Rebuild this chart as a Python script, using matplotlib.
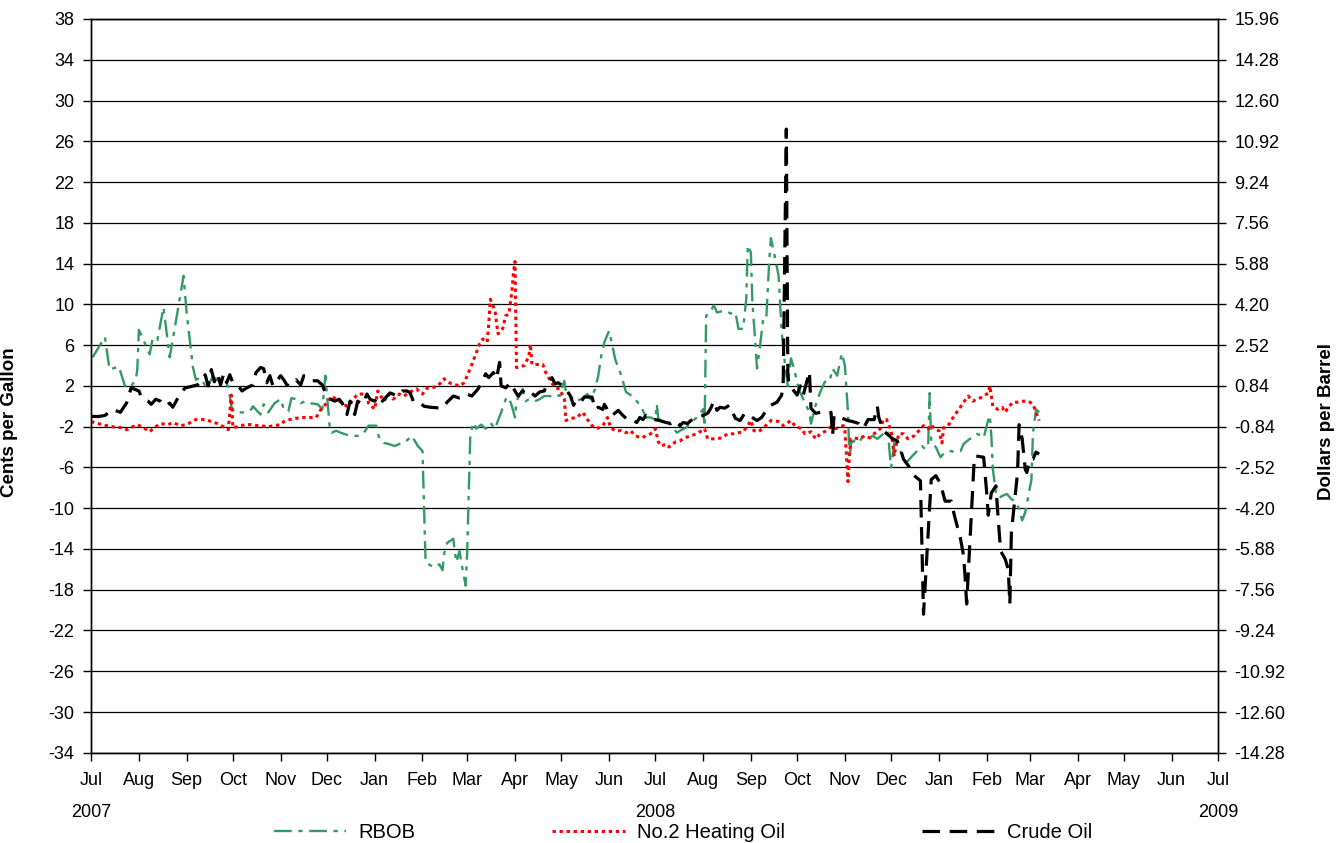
import matplotlib
matplotlib.use('Agg')
import matplotlib.pyplot as plt
import matplotlib.dates as mdates
from matplotlib.ticker import FixedLocator
import pandas as pd
import numpy as np

plt.rcParams['font.family'] = ['Liberation Sans', 'DejaVu Sans']
plt.rcParams['font.size'] = 13
plt.rcParams['axes.unicode_minus'] = False

# RBOB spread, cents per gallon
rbob_dates = ['2007-07-02', '2007-07-06', '2007-07-10', '2007-07-13', '2007-07-19', '2007-07-23', '2007-07-26',
              '2007-07-30', '2007-07-31', '2007-08-01', '2007-08-04', '2007-08-08', '2007-08-10', '2007-08-13',
              '2007-08-17', '2007-08-21', '2007-08-25', '2007-08-30', '2007-09-01', '2007-09-05', '2007-09-07',
              '2007-09-10', '2007-09-14', '2007-09-18', '2007-09-24', '2007-09-28', '2007-09-30', '2007-10-02',
              '2007-10-09', '2007-10-13', '2007-10-14', '2007-10-17', '2007-10-19', '2007-10-21', '2007-10-24',
              '2007-10-28', '2007-11-01', '2007-11-03', '2007-11-06', '2007-11-08', '2007-11-11', '2007-11-14',
              '2007-11-17', '2007-11-20', '2007-11-25', '2007-11-28', '2007-11-30', '2007-12-03', '2007-12-04',
              '2007-12-07', '2007-12-10', '2007-12-14', '2007-12-18', '2007-12-22', '2007-12-25', '2007-12-28',
              '2008-01-02', '2008-01-04', '2008-01-07', '2008-01-10', '2008-01-14', '2008-01-17', '2008-01-20',
              '2008-01-23', '2008-01-25', '2008-01-29', '2008-02-01', '2008-02-03', '2008-02-06', '2008-02-09',
              '2008-02-12', '2008-02-14', '2008-02-15', '2008-02-17', '2008-02-21', '2008-02-22', '2008-02-23',
              '2008-02-25', '2008-02-27', '2008-02-29', '2008-03-01', '2008-03-03', '2008-03-05', '2008-03-07',
              '2008-03-10', '2008-03-13', '2008-03-16', '2008-03-19', '2008-03-23', '2008-03-26', '2008-03-28',
              '2008-03-30', '2008-04-01', '2008-04-02', '2008-04-06', '2008-04-08', '2008-04-10', '2008-04-14',
              '2008-04-17', '2008-04-20', '2008-04-24', '2008-04-27', '2008-04-30', '2008-05-03', '2008-05-04',
              '2008-05-07', '2008-05-10', '2008-05-14', '2008-05-18', '2008-05-20', '2008-05-23', '2008-05-25',
              '2008-05-27', '2008-05-29', '2008-06-01', '2008-06-03', '2008-06-05', '2008-06-09', '2008-06-12',
              '2008-06-16', '2008-06-19', '2008-06-22', '2008-06-25', '2008-06-28', '2008-07-01', '2008-07-02',
              '2008-07-03', '2008-07-07', '2008-07-12', '2008-07-15', '2008-07-17', '2008-07-21', '2008-07-24',
              '2008-07-28', '2008-08-01', '2008-08-02', '2008-08-03', '2008-08-05', '2008-08-08', '2008-08-10',
              '2008-08-15', '2008-08-19', '2008-08-22', '2008-08-24', '2008-08-27', '2008-08-29', '2008-08-30',
              '2008-09-01', '2008-09-02', '2008-09-04', '2008-09-05', '2008-09-07', '2008-09-09', '2008-09-11',
              '2008-09-13', '2008-09-14', '2008-09-16', '2008-09-19', '2008-09-21', '2008-09-23', '2008-09-25',
              '2008-09-27', '2008-09-29', '2008-10-02', '2008-10-05', '2008-10-09', '2008-10-10', '2008-10-13',
              '2008-10-16', '2008-10-19', '2008-10-22', '2008-10-24', '2008-10-27', '2008-10-30', '2008-11-01',
              '2008-11-03', '2008-11-04', '2008-11-05', '2008-11-07', '2008-11-10', '2008-11-12', '2008-11-16',
              '2008-11-19', '2008-11-22', '2008-11-26', '2008-11-29', '2008-11-30', '2008-12-01', '2008-12-03',
              '2008-12-06', '2008-12-09', '2008-12-11', '2008-12-14', '2008-12-19', '2008-12-21', '2008-12-23',
              '2008-12-25', '2008-12-26', '2008-12-27', '2008-12-30', '2009-01-02', '2009-01-05', '2009-01-09',
              '2009-01-11', '2009-01-15', '2009-01-17', '2009-01-21', '2009-01-23', '2009-01-26', '2009-01-30',
              '2009-02-02', '2009-02-03', '2009-02-04', '2009-02-05', '2009-02-07', '2009-02-09', '2009-02-11',
              '2009-02-14', '2009-02-17', '2009-02-20', '2009-02-22', '2009-02-24', '2009-02-26', '2009-02-28',
              '2009-03-02', '2009-03-03', '2009-03-05', '2009-03-07']
rbob_vals = [4.8, 5.8, 6.8, 3.6, 3.9, 2.0, 1.8,
             2.6, 3.6, 7.5, 6.5, 5.1, 6.7, 6.5,
             9.7, 4.8, 8.3, 12.8, 9.2, 3.9, 2.6,
             2.8, 1.8, 2.9, 2.3, 2.0, 0.0, -0.6,
             -0.6, -0.3, 0.0, -0.5, -0.8, 0.2, -0.6,
             0.3, 0.7, -0.3, -0.5, 0.8, 0.7, 0.3,
             0.5, 0.3, 0.2, -0.3, 3.0, -2.4, -2.6,
             -2.4, -2.6, -2.8, -2.9, -2.9, -2.6, -1.9,
             -1.9, -3.2, -3.6, -3.7, -3.9, -3.7, -3.6,
             -3.2, -2.9, -3.9, -4.4, -15.3, -15.6, -15.8,
             -15.5, -16.1, -14.5, -13.4, -13.0, -14.3, -15.3,
             -14.2, -16.0, -17.6, -14.2, -2.9, -1.6, -2.2,
             -1.8, -2.2, -1.6, -2.2, -0.6, 0.7, 0.9,
             0.0, -1.1, 0.5, 1.7, 0.5, 0.7, 0.5,
             0.7, 1.0, 1.0, 1.2, 1.0, 2.5, 1.4,
             1.0, 0.5, 0.7, 1.2, 0.7, 1.7, 3.0,
             5.0, 6.3, 7.4, 6.1, 4.6, 3.0, 1.4,
             1.0, 0.5, -0.1, -1.1, -1.1, -1.3, 0.2,
             -1.3, -1.4, -1.9, -2.6, -2.4, -2.1, -1.6,
             -1.1, -0.3, -2.0, 8.9, 9.1, 9.9, 9.2,
             9.4, 9.1, 9.2, 7.6, 7.6, 10.5, 15.8,
             15.1, 10.2, 6.0, 3.7, 6.0, 8.6, 8.6,
             14.5, 16.5, 15.1, 12.8, 7.3, 4.3, 2.0,
             4.7, 3.7, 1.7, 0.7, -0.6, -1.7, 0.1,
             1.4, 2.4, 2.4, 3.7, 3.0, 5.2, 4.0,
             -0.6, -5.2, -3.6, -3.4, -3.6, -3.1, -3.2,
             -2.9, -3.2, -2.7, -2.4, -4.5, -6.0, -3.6,
             -4.2, -4.9, -5.5, -5.0, -4.2, -3.9, -4.2,
             -3.9, 1.3, -3.6, -4.0, -5.0, -4.5, -4.4,
             -4.5, -4.4, -3.7, -3.2, -3.1, -2.7, -3.1,
             -1.3, -0.9, -2.9, -6.2, -8.5, -9.0, -8.8,
             -8.6, -9.1, -9.4, -10.1, -11.2, -10.4, -8.8,
             -7.2, -2.6, -0.3, -0.6]

# No.2 heating oil spread, cents per gallon
ho_dates = ['2007-07-01', '2007-07-08', '2007-07-14', '2007-07-21', '2007-07-24', '2007-07-31', '2007-08-04',
            '2007-08-08', '2007-08-11', '2007-08-15', '2007-08-20', '2007-08-23', '2007-08-28', '2007-09-01',
            '2007-09-07', '2007-09-13', '2007-09-17', '2007-09-21', '2007-09-26', '2007-09-28', '2007-09-30',
            '2007-10-01', '2007-10-04', '2007-10-09', '2007-10-13', '2007-10-17', '2007-10-24', '2007-11-01',
            '2007-11-03', '2007-11-07', '2007-11-14', '2007-11-19', '2007-11-24', '2007-11-28', '2007-12-01',
            '2007-12-04', '2007-12-09', '2007-12-14', '2007-12-16', '2007-12-21', '2007-12-27', '2007-12-28',
            '2008-01-01', '2008-01-03', '2008-01-05', '2008-01-07', '2008-01-10', '2008-01-13', '2008-01-17',
            '2008-01-20', '2008-01-24', '2008-01-28', '2008-02-01', '2008-02-04', '2008-02-07', '2008-02-11',
            '2008-02-15', '2008-02-17', '2008-02-20', '2008-02-25', '2008-02-28', '2008-03-01', '2008-03-04',
            '2008-03-07', '2008-03-09', '2008-03-11', '2008-03-14', '2008-03-15', '2008-03-16', '2008-03-19',
            '2008-03-21', '2008-03-24', '2008-03-26', '2008-03-28', '2008-03-30', '2008-03-31', '2008-04-01',
            '2008-04-02', '2008-04-07', '2008-04-10', '2008-04-11', '2008-04-12', '2008-04-16', '2008-04-19',
            '2008-04-21', '2008-04-24', '2008-04-27', '2008-04-30', '2008-05-03', '2008-05-04', '2008-05-07',
            '2008-05-11', '2008-05-15', '2008-05-18', '2008-05-21', '2008-05-24', '2008-05-28', '2008-05-31',
            '2008-06-02', '2008-06-05', '2008-06-09', '2008-06-12', '2008-06-15', '2008-06-18', '2008-06-22',
            '2008-06-25', '2008-06-28', '2008-07-01', '2008-07-03', '2008-07-05', '2008-07-08', '2008-07-10',
            '2008-07-14', '2008-07-17', '2008-07-20', '2008-07-24', '2008-07-28', '2008-07-31', '2008-08-02',
            '2008-08-04', '2008-08-09', '2008-08-13', '2008-08-17', '2008-08-21', '2008-08-27', '2008-08-30',
            '2008-09-01', '2008-09-03', '2008-09-06', '2008-09-10', '2008-09-14', '2008-09-19', '2008-09-22',
            '2008-09-27', '2008-09-30', '2008-10-04', '2008-10-06', '2008-10-10', '2008-10-13', '2008-10-16',
            '2008-10-20', '2008-10-23', '2008-10-26', '2008-10-29', '2008-10-31', '2008-11-01', '2008-11-02',
            '2008-11-03', '2008-11-04', '2008-11-05', '2008-11-07', '2008-11-10', '2008-11-14', '2008-11-17',
            '2008-11-20', '2008-11-24', '2008-11-26', '2008-11-28', '2008-12-01', '2008-12-03', '2008-12-04',
            '2008-12-06', '2008-12-09', '2008-12-12', '2008-12-16', '2008-12-19', '2008-12-22', '2008-12-25',
            '2008-12-27', '2008-12-29', '2009-01-01', '2009-01-03', '2009-01-04', '2009-01-07', '2009-01-11',
            '2009-01-14', '2009-01-17', '2009-01-20', '2009-01-23', '2009-01-26', '2009-01-29', '2009-02-02',
            '2009-02-03', '2009-02-05', '2009-02-08', '2009-02-11', '2009-02-13', '2009-02-15', '2009-02-18',
            '2009-02-21', '2009-02-25', '2009-02-28', '2009-03-03', '2009-03-05', '2009-03-07']
ho_vals = [-1.5, -1.8, -2.0, -2.1, -2.3, -1.8, -2.1,
           -2.5, -2.1, -1.7, -1.8, -1.6, -1.9, -1.8,
           -1.3, -1.3, -1.5, -1.7, -2.1, -2.3, 1.1,
           -2.1, -2.0, -1.8, -1.8, -1.9, -2.0, -1.8,
           -1.5, -1.3, -1.1, -1.1, -1.1, -0.1, 0.3,
           1.0, 0.5, 0.0, 0.3, 1.2, 1.2, 0.3,
           -0.3, 1.5, 1.0, 0.5, 1.2, 0.7, 1.2,
           1.0, 1.4, 1.7, 1.2, 1.8, 1.8, 2.0,
           2.7, 2.4, 2.2, 2.0, 2.3, 3.0, 4.1,
           5.3, 6.1, 6.6, 6.3, 8.1, 10.5, 9.4,
           7.1, 7.6, 8.9, 9.0, 11.3, 13.1, 14.2,
           3.8, 4.0, 4.9, 6.1, 4.1, 4.1, 4.1,
           3.3, 2.5, 1.8, 1.7, 0.7, -1.4, -1.2,
           -1.1, -0.6, -1.3, -1.9, -2.2, -1.9, -1.1,
           -2.1, -2.4, -2.4, -2.6, -2.4, -2.9, -3.1,
           -2.9, -2.7, -2.2, -3.5, -3.9, -3.7, -4.0,
           -3.5, -3.4, -3.1, -2.9, -2.7, -2.4, -2.2,
           -3.2, -3.2, -3.1, -2.7, -2.7, -2.5, -1.9,
           -1.4, -2.4, -2.5, -2.0, -1.4, -1.5, -1.9,
           -1.4, -2.0, -2.2, -2.7, -2.5, -3.2, -2.7,
           -2.4, -2.0, -2.2, -2.0, -1.9, -2.4, -4.8,
           -7.4, -4.5, -3.2, -3.1, -3.2, -2.9, -3.1,
           -2.7, -2.2, -1.3, -1.3, -2.4, -4.9, -3.9,
           -2.7, -2.7, -3.2, -2.9, -2.4, -1.9, -2.2,
           -1.8, -2.2, -2.4, -3.6, -2.1, -1.9, -0.9,
           -0.3, 0.4, 1.0, 0.5, 0.7, 0.9, 1.3,
           2.0, 0.0, -0.3, -0.1, -0.6, -0.1, 0.4,
           0.4, 0.5, 0.5, 0.2, -0.6, -1.4]

# crude oil spread, dollars per barrel
crude_dates = ['2007-07-01', '2007-07-06', '2007-07-10', '2007-07-15', '2007-07-20', '2007-07-24', '2007-07-26',
               '2007-07-27', '2007-08-01', '2007-08-03', '2007-08-07', '2007-08-09', '2007-08-12', '2007-08-15',
               '2007-08-18', '2007-08-21', '2007-08-23', '2007-08-27', '2007-08-31', '2007-09-03', '2007-09-08',
               '2007-09-11', '2007-09-13', '2007-09-15', '2007-09-17', '2007-09-19', '2007-09-21', '2007-09-23',
               '2007-09-25', '2007-09-27', '2007-09-29', '2007-10-01', '2007-10-04', '2007-10-07', '2007-10-10',
               '2007-10-14', '2007-10-16', '2007-10-19', '2007-10-21', '2007-10-23', '2007-10-25', '2007-10-27',
               '2007-11-01', '2007-11-03', '2007-11-05', '2007-11-07', '2007-11-11', '2007-11-14', '2007-11-16',
               '2007-11-19', '2007-11-21', '2007-11-25', '2007-11-28', '2007-11-30', '2007-12-02', '2007-12-06',
               '2007-12-09', '2007-12-11', '2007-12-14', '2007-12-16', '2007-12-19', '2007-12-21', '2007-12-24',
               '2007-12-27', '2007-12-29', '2008-01-01', '2008-01-04', '2008-01-06', '2008-01-09', '2008-01-11',
               '2008-01-16', '2008-01-19', '2008-01-22', '2008-01-24', '2008-01-26', '2008-01-29', '2008-02-02',
               '2008-02-06', '2008-02-14', '2008-02-17', '2008-02-21', '2008-02-25', '2008-02-28', '2008-03-01',
               '2008-03-04', '2008-03-08', '2008-03-10', '2008-03-13', '2008-03-15', '2008-03-18', '2008-03-20',
               '2008-03-22', '2008-03-23', '2008-03-26', '2008-03-29', '2008-04-01', '2008-04-03', '2008-04-06',
               '2008-04-09', '2008-04-11', '2008-04-14', '2008-04-17', '2008-04-20', '2008-04-22', '2008-04-25',
               '2008-04-27', '2008-04-29', '2008-05-02', '2008-05-04', '2008-05-07', '2008-05-09', '2008-05-11',
               '2008-05-14', '2008-05-16', '2008-05-21', '2008-05-23', '2008-05-25', '2008-05-28', '2008-05-29',
               '2008-06-01', '2008-06-03', '2008-06-07', '2008-06-10', '2008-06-13', '2008-06-16', '2008-06-19',
               '2008-06-21', '2008-06-23', '2008-06-25', '2008-06-28', '2008-07-01', '2008-07-04', '2008-07-08',
               '2008-07-11', '2008-07-14', '2008-07-17', '2008-07-19', '2008-07-22', '2008-07-24', '2008-07-28',
               '2008-08-01', '2008-08-04', '2008-08-06', '2008-08-08', '2008-08-10', '2008-08-12', '2008-08-15',
               '2008-08-18', '2008-08-22', '2008-08-25', '2008-08-28', '2008-08-31', '2008-09-05', '2008-09-08',
               '2008-09-11', '2008-09-14', '2008-09-18', '2008-09-21', '2008-09-22', '2008-09-24', '2008-09-25',
               '2008-09-26', '2008-09-28', '2008-10-01', '2008-10-03', '2008-10-05', '2008-10-09', '2008-10-10',
               '2008-10-13', '2008-10-16', '2008-10-19', '2008-10-23', '2008-10-24', '2008-10-25', '2008-10-29',
               '2008-11-03', '2008-11-06', '2008-11-10', '2008-11-13', '2008-11-16', '2008-11-20', '2008-11-22',
               '2008-11-23', '2008-11-26', '2008-12-02', '2008-12-05', '2008-12-07', '2008-12-09', '2008-12-13',
               '2008-12-16', '2008-12-20', '2008-12-22', '2008-12-27', '2008-12-30', '2009-01-02', '2009-01-05',
               '2009-01-09', '2009-01-11', '2009-01-15', '2009-01-17', '2009-01-18', '2009-01-19', '2009-01-21',
               '2009-01-23', '2009-01-24', '2009-01-26', '2009-01-30', '2009-02-01', '2009-02-02', '2009-02-04',
               '2009-02-07', '2009-02-08', '2009-02-10', '2009-02-13', '2009-02-15', '2009-02-16', '2009-02-17',
               '2009-02-19', '2009-02-21', '2009-02-22', '2009-02-24', '2009-02-26', '2009-02-27', '2009-03-01',
               '2009-03-03', '2009-03-05', '2009-03-07']
crude_vals = [-0.42, -0.42, -0.38, -0.13, -0.25, 0.13, 0.55,
              0.76, 0.63, 0.34, 0.21, 0.08, 0.29, 0.21,
              0.00, 0.13, -0.04, 0.42, 0.76, 0.80, 0.88,
              1.09, 1.30, 0.84, 1.51, 1.01, 1.34, 0.88,
              1.34, 0.97, 1.30, 0.97, 0.88, 0.63, 0.76,
              0.88, 1.39, 1.60, 1.55, 0.97, 1.26, 0.84,
              1.26, 1.09, 0.88, 0.84, 1.09, 0.88, 1.26,
              1.13, 1.05, 1.05, 0.88, 0.55, 0.34, 0.21,
              0.29, 0.13, -0.34, 0.21, -0.34, 0.21, 0.08,
              0.50, 0.29, 0.21, 0.42, 0.21, 0.42, 0.55,
              0.42, 0.63, 0.63, 0.55, 0.21, 0.21, 0.00,
              -0.04, -0.08, 0.17, 0.42, 0.34, 0.38, 0.50,
              0.42, 0.71, 0.92, 1.34, 1.18, 1.39, 1.13,
              1.81, 0.84, 0.76, 0.97, 0.63, 0.42, 0.63,
              0.50, 0.59, 0.42, 0.59, 0.63, 0.97, 1.18,
              0.92, 0.97, 0.84, 0.71, 0.42, 0.04, 0.29,
              0.21, 0.38, 0.38, -0.13, -0.04, -0.13, 0.08,
              -0.25, -0.38, -0.17, -0.38, -0.55, -0.55, -0.67,
              -0.46, -0.55, -0.38, -0.55, -0.55, -0.59, -0.67,
              -0.71, -0.59, -0.80, -0.67, -0.71, -0.59, -0.46,
              -0.38, -0.29, -0.08, 0.21, -0.17, -0.04, -0.08,
              0.04, -0.50, -0.59, -0.29, -0.38, -0.59, -0.46,
              -0.17, 0.04, 0.17, 0.46, 1.01, 11.42, 1.26,
              0.84, 0.71, 0.46, 0.84, 0.46, 1.43, -0.08,
              -0.29, -0.25, -0.29, -0.25, -1.22, -0.38, -0.46,
              -0.59, -0.63, -0.71, -0.92, -0.55, -0.55, 0.00,
              -0.46, -1.01, -1.34, -1.43, -1.76, -2.18, -2.52,
              -2.86, -3.07, -8.57, -3.02, -2.86, -3.19, -3.91,
              -3.91, -4.49, -5.46, -6.17, -7.06, -8.15, -5.75,
              -3.28, -2.06, -2.06, -2.10, -3.57, -4.49, -3.57,
              -3.28, -4.24, -5.96, -6.30, -6.72, -8.15, -5.21,
              -3.95, -2.73, -0.76, -1.34, -2.60, -2.73, -2.18,
              -2.18, -1.89, -1.97]

left_ticks = list(range(-34, 39, 4))
right_ticks = [-14.28, -12.60, -10.92, -9.24, -7.56, -5.88, -4.20, -2.52, -0.84, 0.84,
               2.52, 4.20, 5.88, 7.56, 9.24, 10.92, 12.60, 14.28, 15.96]

fig = plt.figure(figsize=(13.39, 8.43), dpi=100)
ax = fig.add_axes([0.068, 0.107, 0.8416, 0.8705])
ax2 = ax.twinx()

ax.plot(pd.to_datetime(rbob_dates), rbob_vals, color='#339966', lw=1.7,
        linestyle=(0, (7.5, 2.8, 1.8, 2.8)), label='RBOB')
ax.plot(pd.to_datetime(ho_dates), ho_vals, color='#ff0000', lw=2.2,
        linestyle=(0, (1.1, 1.2)), label='No.2 Heating Oil')
ax2.plot(pd.to_datetime(crude_dates), crude_vals, color='black', lw=2.3,
         linestyle=(0, (5.5, 3)), label='Crude Oil')

ax.set_ylim(-34, 38)
ax2.set_ylim(-14.28, 15.96)
ax.set_yticks(left_ticks)
ax2.set_yticks(right_ticks)
ax2.set_yticklabels(['%.2f' % t for t in right_ticks])
ax.yaxis.grid(True, color='black', lw=0.9)
ax.set_axisbelow(True)

# month ticks along the bottom
months = pd.date_range('2007-07-01', '2009-07-01', freq='MS')
labels = []
for m in months:
    if m.month == 7:
        labels.append(m.strftime('%b') + '\n' + m.strftime('%Y'))
    else:
        labels.append(m.strftime('%b'))
ax.set_xlim(months[0], months[-1])
ax.xaxis.set_major_locator(FixedLocator(mdates.date2num(months)))
ax.set_xticklabels(labels, linespacing=2.1)

for a in (ax, ax2):
    a.tick_params(direction='out', length=6, width=1, color='black', labelsize=13)
    for s in a.spines.values():
        s.set_linewidth(1.0)
ax.tick_params(axis='x', pad=8)
ax.tick_params(axis='y', pad=6)
ax2.tick_params(axis='y', pad=6)

ax.set_ylabel('Cents per Gallon', fontweight='bold', fontsize=13.5)
ax.yaxis.set_label_coords(-0.065, 0.451)
ax2.set_ylabel('Dollars per Barrel', fontweight='bold', fontsize=13.5, rotation=90)
ax2.yaxis.set_label_coords(1.089, 0.451)

h1, l1 = ax.get_legend_handles_labels()
h2, l2 = ax2.get_legend_handles_labels()
fig.legend(h1 + h2, l1 + l2, loc='center', bbox_to_anchor=(0.51, 0.012), ncol=3,
           frameon=False, handlelength=3.6, columnspacing=6.8, handletextpad=0.6, fontsize=14.5)

fig.savefig('out.png', dpi=100)
